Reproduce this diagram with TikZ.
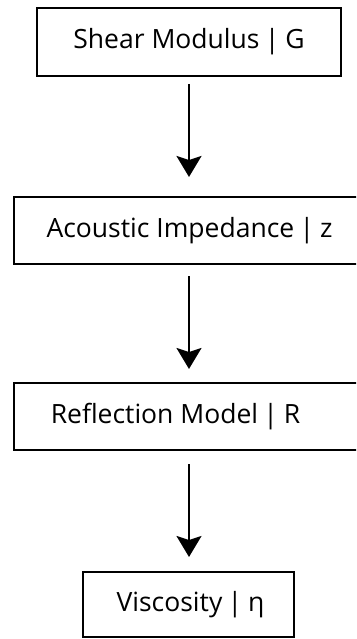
\documentclass[tikz,border=0pt]{standalone}
\usepackage{fontspec}
\setmainfont{Open Sans}
\usetikzlibrary{arrows.meta}
% vertical bar separating a quantity from its symbol
\newcommand{\qsep}{\hspace{0.2em}|\hspace{0.22em}}
\begin{document}
\begin{tikzpicture}[x=1pt,y=1pt,
  box/.style={draw=black, line width=2pt, rectangle, inner sep=0pt,
    font=\fontsize{26.5}{30}\selectfont, text=black},
  flow/.style={draw=black, line width=2pt,
    -{Stealth[length=21pt,width=25pt,inset=4pt]}}]
\useasboundingbox (0,0) rectangle (356,-639);
\clip (0,0) rectangle (356,-639);

\node[box, minimum width=304pt, minimum height=68pt] (shear) at (189,-42) {Shear Modulus\qsep G};
\node[box, minimum width=352pt, minimum height=67pt] (imped) at (189.5,-230.5) {Acoustic Impedance\qsep z};
\node[box, minimum width=352pt, minimum height=67pt] (refl) at (189.5,-416.5) {Reflection Model\qsep R\hspace*{28pt}};
\node[box, minimum width=211pt, minimum height=65pt] (visc) at (188.5,-604.5) {Viscosity\qsep η\hspace*{-4pt}};

\draw[flow, shorten <=7pt, shorten >=19pt] (shear.south -| 189,0) -- (imped.north -| 189,0);
\draw[flow, shorten <=11pt, shorten >=13pt] (imped.south -| 189,0) -- (refl.north -| 189,0);
\draw[flow, shorten <=13pt, shorten >=14pt] (refl.south -| 189,0) -- (visc.north -| 189,0);
\end{tikzpicture}
\end{document}
